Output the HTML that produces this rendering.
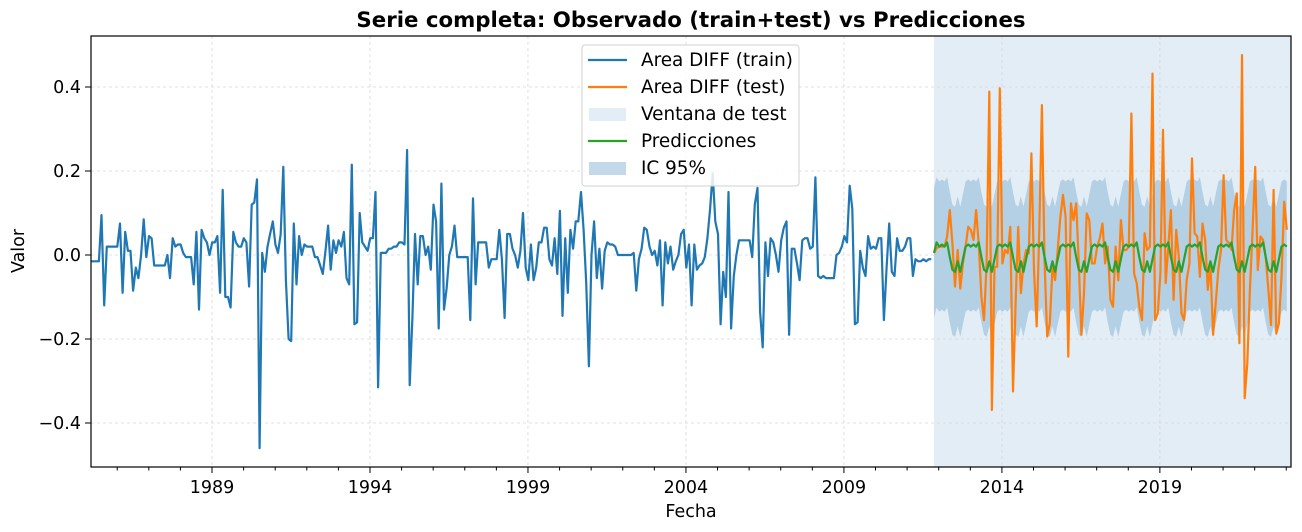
<!DOCTYPE html>
<html><head><meta charset="utf-8"><style>
body{margin:0;background:#fff;}
svg{display:block;font-family:"DejaVu Sans","Liberation Sans",sans-serif;}
</style></head><body>
<svg id="chart" width="1302" height="532" viewBox="0 0 1302 532">
<text x="691" y="27" text-anchor="middle" font-size="21.3" font-weight="bold">Serie completa: Observado (train+test) vs Predicciones</text>
<g id="grid"></g>
<g id="marks"></g>
<rect x="91" y="36" width="1200" height="431" fill="none" stroke="#000" stroke-width="1.2"/>
<g id="axes"></g>
<text x="691" y="517" text-anchor="middle" font-size="17.5">Fecha</text>
<text x="0" y="0" transform="translate(24,251) rotate(-90)" text-anchor="middle" font-size="17.5">Valor</text>
<g>
<rect x="582" y="45" width="217" height="141" rx="3" fill="#fff" fill-opacity="0.85" stroke="#d0d0d0"/>
<line x1="588" y1="60" x2="627" y2="60" stroke="#1f77b4" stroke-width="2.2"/>
<text x="641" y="66" font-size="18.4">Area DIFF (train)</text>
<line x1="588" y1="87" x2="627" y2="87" stroke="#ff7f0e" stroke-width="2.2"/>
<text x="641" y="93" font-size="18.4">Area DIFF (test)</text>
<rect x="589" y="108" width="37" height="13" fill="#e2edf5"/>
<text x="641" y="120" font-size="18.4">Ventana de test</text>
<line x1="588" y1="141" x2="627" y2="141" stroke="#2ca02c" stroke-width="2.2"/>
<text x="641" y="147" font-size="18.4">Predicciones</text>
<rect x="589" y="162" width="37" height="13" fill="#c3d9ea"/>
<text x="641" y="174" font-size="18.4">IC 95%</text>
</g>
</svg>
<script>
const trainStart = 1985.17;
const trainValues = [-0.015,-0.015,-0.015,-0.015,0.095,-0.12,0.02,0.02,
0.02,0.02,0.02,0.075,-0.09,0.055,0.01,0.01,-0.085,-0.03,-0.055,0.0,
0.085,-0.005,0.045,0.04,-0.025,-0.025,-0.025,-0.025,-0.025,0.0,-0.055,0.04,
0.02,0.025,0.025,0.005,-0.005,-0.005,-0.005,-0.07,0.055,-0.13,0.06,0.04,
0.03,0.0,0.03,0.03,0.045,-0.09,0.155,-0.1,-0.1,-0.125,0.055,0.03,
0.02,0.02,0.04,0.03,-0.075,0.12,0.125,0.18,-0.46,0.005,-0.04,0.02,
0.05,0.08,0.025,0.005,0.05,0.21,-0.06,-0.2,-0.205,0.075,-0.07,0.045,
0.0,0.025,0.02,0.02,0.02,-0.005,-0.005,-0.025,-0.045,0.01,0.07,-0.035,
0.035,0.005,0.035,0.02,0.055,-0.055,-0.07,0.215,-0.165,-0.16,0.1,0.03,
0.02,0.01,0.04,0.04,0.15,-0.315,0.005,0.005,0.005,0.015,0.015,0.02,
0.02,0.03,0.03,0.025,0.25,-0.31,-0.15,0.05,-0.07,0.045,0.045,0.0,
0.02,-0.035,0.12,0.08,-0.175,0.17,-0.13,-0.08,0.0,0.02,0.07,-0.005,
-0.005,-0.005,-0.005,-0.005,-0.155,0.135,-0.07,0.03,0.03,0.03,0.03,-0.03,
-0.01,-0.01,-0.01,0.06,-0.01,-0.15,0.05,0.05,0.015,0.0,-0.03,0.01,
0.1,-0.03,-0.06,0.025,-0.06,-0.03,0.03,0.03,0.065,0.065,-0.01,-0.025,
0.04,-0.045,0.105,-0.145,0.04,-0.09,0.06,0.015,0.08,0.08,0.15,0.06,
-0.065,-0.265,0.0,0.08,-0.055,0.015,-0.08,0.01,0.03,0.025,0.025,0.02,
0.0,0.0,0.0,0.0,0.0,0.0,0.005,-0.085,-0.01,0.015,0.065,0.06,
0.02,0.0,0.01,-0.025,0.035,-0.12,0.03,-0.02,0.02,-0.035,-0.015,0.0,
0.05,0.06,-0.03,0.025,-0.12,0.025,-0.035,-0.025,-0.02,-0.005,0.04,0.11,
0.195,0.08,0.05,-0.165,-0.04,-0.1,0.15,-0.175,-0.05,0.0,0.035,0.035,
0.035,0.035,0.035,-0.005,0.12,0.16,-0.135,-0.22,0.03,-0.05,0.04,0.03,
0.0,-0.04,0.035,0.065,0.08,-0.19,0.015,0.015,-0.02,-0.06,0.035,0.04,
0.04,0.015,0.02,0.185,-0.05,-0.055,-0.05,-0.055,-0.055,-0.055,-0.055,0.0,
0.005,0.02,0.045,0.03,0.165,0.11,-0.165,-0.16,0.01,-0.03,-0.05,0.045,
0.015,0.02,0.015,0.04,0.04,-0.155,-0.03,0.075,-0.04,-0.05,0.04,0.01,
0.01,0.02,0.04,0.04,-0.05,-0.01,-0.015,-0.015,-0.01,-0.015,-0.01,-0.01];
const testStart = 2011.85;
const testValues = [0.004,0.016,0.02,0.02,0.02,0.044,0.107,0.028,-0.075,0.012,-0.08,-0.02,0.02,0.067,0.06,0.036,0.107,0.028,-0.099,-0.155,-0.02,0.389,-0.369,-0.028,-0.028,0.397,-0.02,0.012,0.004,0.067,-0.325,-0.115,0.067,-0.091,-0.02,0.012,0.004,0.242,-0.036,-0.17,0.06,0.357,-0.02,-0.194,-0.163,-0.028,-0.06,0.012,0.091,0.143,0.091,-0.242,0.123,0.083,0.123,-0.02,-0.19,-0.091,0.099,0.083,-0.02,-0.02,0.02,0.04,
0.075,-0.02,0.02,-0.107,-0.123,0.02,-0.06,0.083,0.012,0.012,0.02,0.337,-0.044,-0.067,-0.123,-0.155,0.052,0.012,0.02,0.432,-0.155,-0.139,-0.044,0.298,-0.067,0.02,0.107,-0.107,0.06,-0.004,-0.139,-0.155,-0.06,-0.02,0.23,0.052,0.044,-0.052,0.075,0.036,-0.083,-0.02,-0.19,-0.115,-0.036,0.012,0.19,0.036,0.028,0.012,0.107,0.147,-0.21,0.476,-0.341,-0.258,-0.083,0.06,0.21,-0.036,0.044,0.036,-0.004,-0.083,-0.167,0.155,-0.187,-0.163,-0.052,0.127,0.06];
const predValues = [0.005,0.03,0.02,0.025,0.02,0.03,-0.005,-0.035,-0.04,-0.015,-0.04,-0.01,
0.02,0.025,0.02,0.025,0.02,0.03,-0.005,-0.035,-0.04,-0.015,-0.04,-0.01,
0.02,0.025,0.02,0.025,0.02,0.03,-0.005,-0.035,-0.04,-0.015,-0.04,-0.01,
0.02,0.025,0.02,0.025,0.02,0.03,-0.005,-0.035,-0.04,-0.015,-0.04,-0.01,
0.02,0.025,0.02,0.025,0.02,0.03,-0.005,-0.035,-0.04,-0.015,-0.04,-0.01,
0.02,0.025,0.02,0.025,0.02,0.03,-0.005,-0.035,-0.04,-0.015,-0.04,-0.01,
0.02,0.025,0.02,0.025,0.02,0.03,-0.005,-0.035,-0.04,-0.015,-0.04,-0.01,
0.02,0.025,0.02,0.025,0.02,0.03,-0.005,-0.035,-0.04,-0.015,-0.04,-0.01,
0.02,0.025,0.02,0.025,0.02,0.03,-0.005,-0.035,-0.04,-0.015,-0.04,-0.01,
0.02,0.025,0.02,0.025,0.02,0.03,-0.005,-0.035,-0.04,-0.015,-0.04,-0.01,
0.02,0.025,0.02,0.025,0.02,0.03,-0.005,-0.035,-0.04,-0.015,-0.04,-0.01,
0.02,0.025,0.02];
const ciHalfWidth = 0.155;
const xTickYears = [1989,1994,1999,2004,2009,2014,2019];
const yTicks = [-0.4,-0.2,0.0,0.2,0.4];
const xDomain = [1985.17, 2023.15];
const yDomain = [-0.5, 0.5];

const NS='http://www.w3.org/2000/svg';
const L=91,R=1291,T=36,B=467;
const xs=t=>L+(t-xDomain[0])/(xDomain[1]-xDomain[0])*(R-L);
const ys=v=>255-v*420;
function mk(tag,attrs,parent){const e=document.createElementNS(NS,tag);for(const k in attrs)e.setAttribute(k,attrs[k]);parent.appendChild(e);return e;}
const grid=document.getElementById('grid'),marks=document.getElementById('marks'),axes=document.getElementById('axes');

const win=mk('rect',{x:xs(testStart),y:T,width:R-xs(testStart),height:B-T,fill:'#e2edf5'},grid);



xTickYears.forEach(y=>{const x=xs(y);
 const g=mk('line',{x1:x,x2:x,y1:T,y2:B,stroke:'#d6d6d6','stroke-dasharray':'3,3','stroke-width':0.8},grid);
 
 const tk=mk('line',{x1:x,x2:x,y1:B,y2:B+6,stroke:'#000'},axes);
 
 const t=mk('text',{x:x,y:B+26,'text-anchor':'middle','font-size':17.5},axes);t.textContent=y;
 
});
for(let y=Math.ceil(xDomain[0]);y<=xDomain[1];y++){if(xTickYears.includes(y))continue;
 const tk=mk('line',{x1:xs(y),x2:xs(y),y1:B,y2:B+3.5,stroke:'#000'},axes);
 }
yTicks.forEach(v=>{const y=ys(v);
 const g=mk('line',{x1:L,x2:R,y1:y,y2:y,stroke:'#d6d6d6','stroke-dasharray':'3,3','stroke-width':0.8},grid);
 
 const tk=mk('line',{x1:L-6,x2:L,y1:y,y2:y,stroke:'#000'},axes);
 
 const t=mk('text',{x:L-10,y:y+6,'text-anchor':'end','font-size':17.5},axes);
 t.textContent=(v<0?'\u2212':'')+Math.abs(v).toFixed(1);
 
});

const tt=i=>testStart+i/12;
let up='',lo='';
predValues.forEach((p,i)=>{up+=(i?'L':'M')+xs(tt(i))+','+ys(p+ciHalfWidth);});
for(let i=predValues.length-1;i>=0;i--)lo+='L'+xs(tt(i))+','+ys(predValues[i]-ciHalfWidth);
const ci=mk('path',{d:up+lo+'Z',fill:'#b3d0e5'},marks);


function line(vals,start,color,name,step){const d=vals.map((v,i)=>(i?'L':'M')+xs(start+i*step).toFixed(1)+','+ys(v).toFixed(1)).join('');
 const p=mk('path',{d:d,fill:'none',stroke:color,'stroke-width':2.2,'stroke-linejoin':'round'},marks);
 }
line(trainValues,trainStart,'#1f77b4','train-line',(testStart-1/12-trainStart)/(trainValues.length-1));
line(testValues,testStart,'#ff7f0e','test-line',1/12);
line(predValues,testStart,'#2ca02c','prediction-line',1/12);
</script>
</body></html>
